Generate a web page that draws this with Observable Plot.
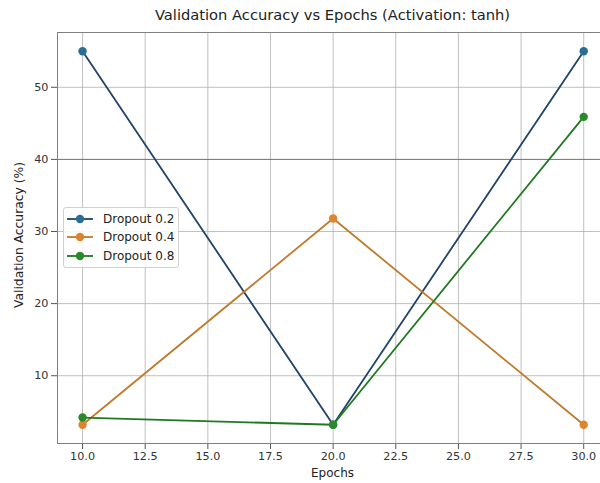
<!DOCTYPE html>
<html>
<head>
<meta charset="utf-8">
<script src="https://cdn.jsdelivr.net/npm/d3@7"></script>
<script src="https://cdn.jsdelivr.net/npm/@observablehq/plot@0.6"></script>
<style>
  html, body { margin: 0; padding: 0; background: #fff; overflow: hidden; }
  #wrap { position: relative; width: 600px; height: 483px; font-family: "DejaVu Sans", sans-serif; }
  #title { position: absolute; left: 57px; width: 551px; top: 6px; text-align: center; font-size: 14.7px; color: #222; }
  #xlabel { position: absolute; left: 57px; width: 551px; top: 467px; line-height: 1; text-align: center; font-size: 12px; color: #222; }
  #ylabel { position: absolute; left: 19px; top: 235px; transform: translate(-50%, -50%) rotate(-90deg); white-space: nowrap; font-size: 12.3px; color: #222; }
  #legend { position: absolute; left: 63px; top: 207px; width: 114px; height: 59px; border: 1px solid #d0d0d0; border-radius: 3px; background: rgba(255,255,255,0.85); font-size: 12px; color: #222; }
  .item { position: absolute; left: 3px; height: 15px; display: flex; align-items: center; }
  .item svg { margin-right: 10px; }
</style>
</head>
<body>
<div id="wrap">
  <div id="chart"></div>
  <div id="title"></div>
  <div id="xlabel"></div>
  <div id="ylabel"></div>
  <div id="legend"></div>
</div>
<script>
const titleText = "Validation Accuracy vs Epochs (Activation: tanh)";
const xLabel = "Epochs";
const yLabel = "Validation Accuracy (%)";
const epochs = [10, 20, 30];
const seriesNames = ["Dropout 0.2", "Dropout 0.4", "Dropout 0.8"];
const dropout02 = [55.0, 3.2, 55.0];
const dropout04 = [3.2, 31.8, 3.2];
const dropout08 = [4.2, 3.2, 45.9];
const lineColors = ["#1f4468", "#c07a2c", "#1f7a1f"];
const dotColors = ["#2a6f93", "#de842a", "#2a8a2a"];
const xTicks = [10, 12.5, 15, 17.5, 20, 22.5, 25, 27.5, 30];
const yTicks = [10, 20, 30, 40, 50];

const allSeries = [dropout02, dropout04, dropout08];
const data = [];
allSeries.forEach((vals, i) => vals.forEach((v, j) => data.push({series: seriesNames[i], epoch: epochs[j], acc: v})));

const chart = Plot.plot({
  width: 600,
  height: 483,
  marginTop: 32,
  marginBottom: 40,
  marginLeft: 57,
  marginRight: 0,
  style: {fontFamily: "DejaVu Sans, sans-serif", fontSize: "11.2px", color: "#333", background: "transparent"},
  x: {domain: [9, 30.67], ticks: xTicks, tickFormat: d3.format(".1f"), label: null, tickSize: 4, tickPadding: 3},
  y: {domain: [0.6, 57.6], ticks: yTicks, label: null, tickSize: 4, tickPadding: 4},
  color: {domain: seriesNames, range: lineColors},
  marks: [
    Plot.gridX(xTicks, {stroke: "#b0b0b0", strokeOpacity: 1, strokeWidth: 0.8}),
    Plot.gridY(yTicks.filter(t => t !== 40), {stroke: "#b0b0b0", strokeOpacity: 1, strokeWidth: 0.8}),
    Plot.gridY([40], {stroke: "#707070", strokeOpacity: 1, strokeWidth: 1}),
    Plot.axisX({ticks: xTicks, tickFormat: d3.format(".1f"), stroke: "#555", label: null, tickPadding: 3}),
    Plot.axisY({ticks: yTicks, stroke: "#555", label: null}),
    Plot.frame({stroke: "#808080", strokeWidth: 1}),
    ...seriesNames.flatMap((name, i) => {
      const d = data.filter(r => r.series === name);
      return [
        Plot.line(d, {x: "epoch", y: "acc", stroke: lineColors[i], strokeWidth: 1.8}),
        Plot.dot(d, {x: "epoch", y: "acc", fill: dotColors[i], r: 4.2})
      ];
    })
  ]
});
document.getElementById("chart").appendChild(chart);
document.getElementById("title").textContent = titleText;
document.getElementById("xlabel").textContent = xLabel;
document.getElementById("ylabel").textContent = yLabel;

const legend = document.getElementById("legend");
seriesNames.forEach((name, i) => {
  const item = document.createElement("div");
  item.className = "item";
  item.style.top = (3 + i * 18.5) + "px";
  item.innerHTML = `<svg width="26" height="12"><line x1="0" y1="6" x2="26" y2="6" stroke="${lineColors[i]}" stroke-width="1.8"/><circle cx="13" cy="6" r="4.2" fill="${dotColors[i]}"/></svg><span>${name}</span>`;
  legend.appendChild(item);
});
</script>
</body>
</html>
